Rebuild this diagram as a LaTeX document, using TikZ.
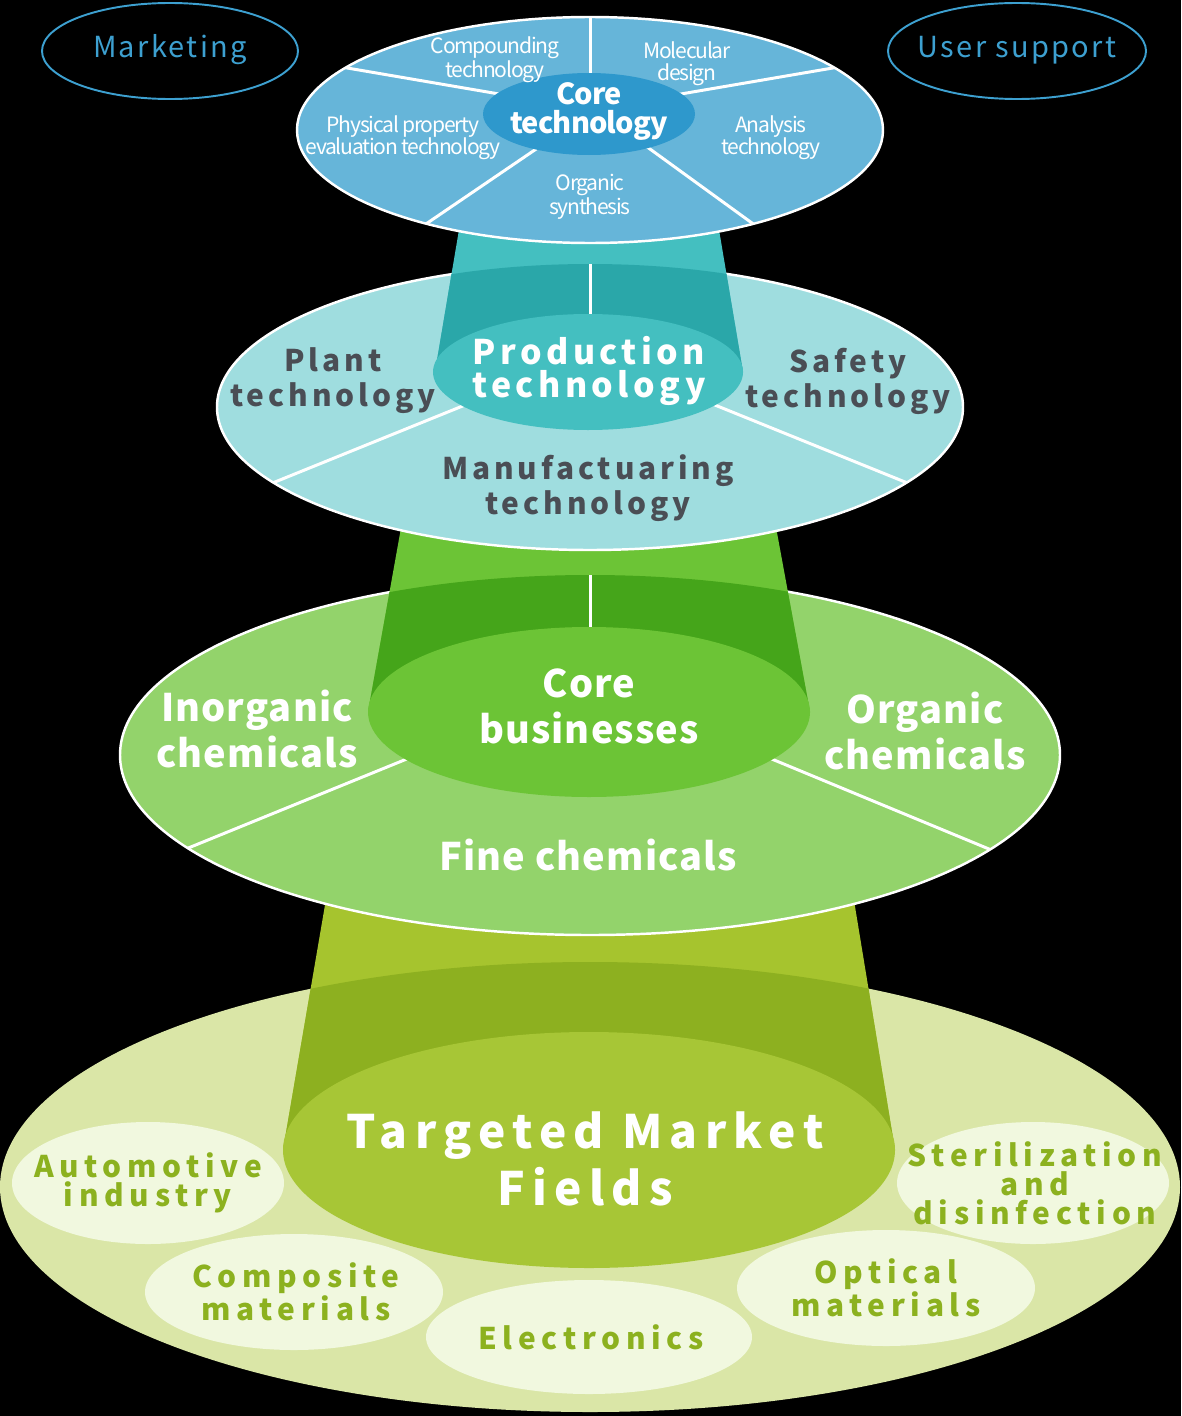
\documentclass[tikz,border=0pt]{standalone}
\usepackage{fontspec}
\setmainfont{Noto Sans CJK JP}
\newfontfamily\tightsans{Noto Sans CJK JP}[LetterSpace=-6]
\newfontfamily\coresans{Noto Sans CJK JP}[LetterSpace=-3]
\newfontfamily\marksans{Noto Sans CJK JP}[LetterSpace=8]
\newfontfamily\widesans{Noto Sans CJK JP}[LetterSpace=3]
\newfontfamily\widersans{Noto Sans CJK JP}[LetterSpace=13]
\newfontfamily\bigsans{Noto Sans CJK JP}[LetterSpace=16]
\newfontfamily\widestsans{Noto Sans CJK JP}[LetterSpace=19]

% disc colours, top to bottom
\definecolor{techout}{HTML}{66B5D9}
\definecolor{techin}{HTML}{2E98CC}
\definecolor{prodbeam}{HTML}{44BFC0}
\definecolor{prodbeamdk}{HTML}{2AA7A9}
\definecolor{prodout}{HTML}{9FDDDF}
\definecolor{bizbeam}{HTML}{6CC436}
\definecolor{bizbeamdk}{HTML}{45A51A}
\definecolor{bizout}{HTML}{93D36B}
\definecolor{fieldbeam}{HTML}{A6C42E}
\definecolor{fieldbeamdk}{HTML}{8DB020}
\definecolor{fieldout}{HTML}{DAE6A7}
\definecolor{fieldin}{HTML}{A7C636}
\definecolor{fieldsmall}{HTML}{F1F8DF}
\definecolor{fieldtext}{HTML}{8CB11F}
\definecolor{greytext}{HTML}{4A4E55}
\definecolor{marktext}{HTML}{3DA0D0}

\tikzset{
  divider/.style={white, line width=1.7pt},
  rim/.style={draw=white, line width=1.4pt},
  smalltxt/.style={text=white, align=center, inner sep=0pt,
    font=\tightsans\fontsize{12}{12.5}\selectfont},
  coretxt/.style={text=white, align=center, inner sep=0pt,
    font=\coresans\fontsize{16.5}{16.5}\selectfont\bfseries},
  prodtxt/.style={text=white, align=center, inner sep=0pt,
    font=\widersans\fontsize{19.3}{19.3}\selectfont\bfseries},
  greytxt/.style={text=greytext, align=center, inner sep=0pt,
    font=\widersans\fontsize{17}{19.9}\selectfont\bfseries},
  chemtxt/.style={text=white, align=center, inner sep=0pt,
    font=\widesans\fontsize{21.6}{26.2}\selectfont\bfseries},
  bigtxt/.style={text=white, align=center, inner sep=0pt,
    font=\bigsans\fontsize{26.2}{32.4}\selectfont\bfseries},
  fieldtxt/.style={text=fieldtext, align=center, inner sep=0pt,
    font=\widestsans\fontsize{17}{16.5}\selectfont\bfseries},
  marktxt/.style={text=marktext, inner sep=0pt,
    font=\marksans\fontsize{16.5}{16.5}\selectfont},
}

\begin{document}
\begin{tikzpicture}[x=0.02cm, y=-0.02cm]

  % === BACKGROUND ===
  \fill[black] (0,0) rectangle (1181,1416);
  \useasboundingbox (0,0) rectangle (1181,1416);

  % =============================================
  % STEP 1: Targeted market fields (bottom disc)
  % =============================================
  \fill[fieldout] (590,1187) ellipse (590 and 225);
  \fill[fieldbeam] (331,870) -- (849,870) -- (895,1150) -- (283,1150) -- cycle;
  \begin{scope}
    \clip (590,1187) ellipse (590 and 225);
    \fill[fieldbeamdk] (331,870) -- (849,870) -- (895,1150) -- (283,1150) -- cycle;
  \end{scope}
  \fill[fieldin] (589,1150) ellipse (306 and 118);
  % small field discs
  \foreach \cx/\cy/\rx/\ry in {148/1183/136/61, 294/1292/149/58,
      886/1288/149/58, 1033/1183/136/61, 589/1337/163/57} {
    \fill[fieldsmall] (\cx,\cy) ellipse [x radius=\rx, y radius=\ry];
  }

  % =============================================
  % STEP 2: Core businesses disc
  % =============================================
  \filldraw[fill=bizout, rim] (590,755) ellipse (470 and 180);
  \fill[bizbeam] (406,500) -- (771,500) -- (810,712) -- (368,712) -- cycle;
  \begin{scope}
    \clip (590,755) ellipse (470 and 180);
    \fill[bizbeamdk] (406,500) -- (771,500) -- (810,712) -- (368,712) -- cycle;
    \draw[divider] (590,560) -- (590,700);
    \draw[divider] (500,721) -- (149,864);
    \draw[divider] (680,721) -- (1030,866);
  \end{scope}
  \fill[bizbeam] (589,712) ellipse (221 and 85);

  % =============================================
  % STEP 3: Production technology disc
  % =============================================
  \filldraw[fill=prodout, rim] (590,407) ellipse (373 and 143);
  \fill[prodbeam] (464,200) -- (714,200) -- (743,372) -- (435,372) -- cycle;
  \begin{scope}
    \clip (590,407) ellipse (373 and 143);
    \fill[prodbeamdk] (464,200) -- (714,200) -- (743,372) -- (435,372) -- cycle;
    \draw[divider] (590,250) -- (590,360);
    \draw[divider] (554,369) -- (233,499);
    \draw[divider] (626,369) -- (947,499);
  \end{scope}
  \fill[prodbeam] (588,372) ellipse (155 and 58);

  % =============================================
  % STEP 4: Core technology disc (top)
  % =============================================
  \filldraw[fill=techout, rim] (590,130) ellipse (293 and 113);
  \begin{scope}
    \clip (590,130) ellipse (293 and 113);
    \draw[divider] (590,0) -- (590,110);
    \draw[divider] (318,63) -- (540,101);
    \draw[divider] (862,63) -- (640,101);
    \draw[divider] (570,126) -- (398,243);
    \draw[divider] (610,120) -- (785,247);
  \end{scope}
  \fill[techin] (589,114) ellipse (106 and 41);

  % outline ovals left and right
  \draw[marktext, line width=1.1pt] (170,51) ellipse (128 and 48);
  \draw[marktext, line width=1.1pt] (1017,51) ellipse (129 and 48);

  % =============================================
  % STEP 5: Labels
  % =============================================
  \node[marktxt] (marketing) at (170,50) {Marketing};
  \node[marktxt] (usersupport) at (1017,50) {User support};

  \node[smalltxt] (compounding) at (495,60) {Compounding\\technology};
  \node[smalltxt] (molecular) at (687,64) {Molecular\\design};
  \node[coretxt] (coretech) at (589,111) {Core\\technology};
  \node[smalltxt] (physprop) at (403,138) {Physical property\\evaluation technology};
  \node[smalltxt] (analysis) at (771,138) {Analysis\\technology};
  \node[smalltxt] (orgsyn) at (590,197) {Organic\\synthesis};

  \node[prodtxt] (prodtech) at (589,371) {Production\\technology};
  \node[greytxt] (plant) at (333,381) {Plant\\technology};
  \node[greytxt] (safety) at (848,381) {Safety\\technology};
  \node[greytxt] (manuf) at (588,488) {Manufactuaring\\technology};

  \node[chemtxt] (corebiz) at (589,706) {Core\\businesses};
  \node[chemtxt] (inorganic) at (257,729) {Inorganic\\chemicals};
  \node[chemtxt] (organic) at (925,731) {Organic\\chemicals};
  \node[chemtxt] (fine) at (588,855) {Fine chemicals};

  \node[bigtxt] (targeted) at (585,1159) {Targeted Market\\Fields};
  \node[fieldtxt] (automotive) at (148,1183) {Automotive\\industry};
  \node[fieldtxt] (composite) at (296,1292) {Composite\\materials};
  \node[fieldtxt] (electronics) at (591,1337) {Electronics};
  \node[fieldtxt] (optical) at (886,1288) {Optical\\materials};
  \node[fieldtxt] (steril) at (1035,1183) {Sterilization\\and\\disinfection};

\end{tikzpicture}
\end{document}
